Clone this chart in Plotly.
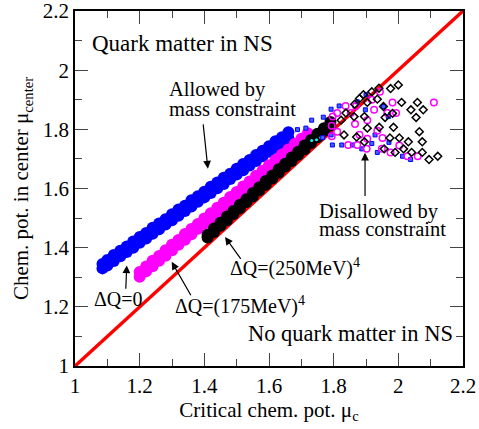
import plotly.graph_objects as go

# diagonal mu_center = mu_c
diag_x = [1.0, 2.2]
diag_y = [1.0, 2.2]

# dense bands (allowed by mass constraint)
blue_x = [1.085, 1.10, 1.12, 1.14, 1.16, 1.18, 1.20, 1.22, 1.24, 1.26, 1.28, 1.30, 1.32, 1.34, 1.36,
          1.38, 1.40, 1.42, 1.44, 1.46, 1.48, 1.50, 1.52, 1.54, 1.56, 1.58, 1.60, 1.62, 1.64, 1.66]
blue_hi = [1.345, 1.358, 1.375, 1.390, 1.404, 1.421, 1.436, 1.450, 1.467, 1.482, 1.496, 1.513, 1.529, 1.542, 1.560,
           1.574, 1.589, 1.606, 1.620, 1.636, 1.650, 1.667, 1.683, 1.696, 1.713, 1.728, 1.743, 1.760, 1.773, 1.790]
blue_lo = [1.330, 1.340, 1.355, 1.371, 1.385, 1.400, 1.417, 1.431, 1.447, 1.462, 1.478, 1.493, 1.508, 1.524, 1.539,
           1.555, 1.570, 1.585, 1.601, 1.615, 1.632, 1.647, 1.662, 1.678, 1.693, 1.709, 1.724, 1.738, 1.755, 1.770]

mag_x = [1.20, 1.22, 1.24, 1.26, 1.28, 1.30, 1.32, 1.34, 1.36, 1.38, 1.40, 1.42, 1.44, 1.46,
         1.48, 1.50, 1.52, 1.54, 1.56, 1.58, 1.60, 1.62, 1.64, 1.66, 1.68, 1.70, 1.72]
mag_hi = [1.318, 1.336, 1.356, 1.372, 1.391, 1.410, 1.426, 1.446, 1.463, 1.480, 1.499, 1.516, 1.535, 1.552,
          1.571, 1.588, 1.607, 1.624, 1.643, 1.660, 1.679, 1.696, 1.715, 1.732, 1.751, 1.768, 1.787]
mag_lo = [1.302, 1.320, 1.337, 1.356, 1.373, 1.391, 1.410, 1.427, 1.445, 1.464, 1.481, 1.500, 1.517, 1.536,
          1.553, 1.572, 1.589, 1.608, 1.625, 1.644, 1.661, 1.680, 1.697, 1.716, 1.733, 1.752, 1.769]

blk_x = [1.41, 1.43, 1.45, 1.47, 1.49, 1.51, 1.53, 1.55, 1.57, 1.59,
         1.61, 1.63, 1.65, 1.67, 1.69, 1.71, 1.73, 1.75, 1.77, 1.79]
blk_hi = [1.444, 1.465, 1.484, 1.505, 1.524, 1.545, 1.564, 1.585, 1.604, 1.625,
          1.644, 1.665, 1.684, 1.705, 1.724, 1.745, 1.764, 1.785, 1.804, 1.825]
blk_lo = [1.434, 1.453, 1.474, 1.493, 1.514, 1.533, 1.554, 1.573, 1.594, 1.613,
          1.634, 1.653, 1.674, 1.693, 1.714, 1.733, 1.754, 1.773, 1.794, 1.813]

# scattered points (disallowed by mass constraint)
sq_x = [1.918, 1.935, 1.971, 2.013, 2.038, 1.954, 1.969, 1.928, 1.792, 1.817, 1.732, 1.768, 1.714, 1.688,
        1.792, 1.796, 1.825, 1.858, 1.900, 1.898, 1.873, 1.887, 1.766]
sq_y = [1.752, 1.722, 1.756, 1.709, 1.698, 1.877, 1.843, 1.781, 1.868, 1.879, 1.831, 1.841, 1.804, 1.799,
        1.781, 1.747, 1.747, 1.747, 1.917, 1.866, 1.893, 1.734, 1.772]

circ_x = [1.943, 1.918, 1.982, 2.110, 1.925, 1.966, 1.993, 1.935, 1.951, 2.003, 1.949, 1.976, 2.028, 2.060,
          1.837, 1.869, 1.811, 1.853, 1.866, 1.811, 1.794, 1.845, 1.873, 1.904, 1.902, 1.797, 1.904, 1.880, 1.794]
circ_y = [1.927, 1.900, 1.891, 1.891, 1.866, 1.855, 1.855, 1.795, 1.771, 1.745, 1.734, 1.722, 1.709, 1.709,
          1.879, 1.879, 1.855, 1.855, 1.818, 1.792, 1.777, 1.747, 1.747, 1.768, 1.734, 1.843, 1.831, 1.782, 1.812]

dia_x = [2.000, 1.976, 1.918, 1.935, 2.010, 2.059, 1.954, 2.039, 2.077, 1.982, 1.959, 2.055, 1.941, 1.985,
         2.065, 1.974, 2.003, 2.031, 2.074, 1.956, 1.990, 2.016, 2.041, 2.074, 2.095, 2.122,
         1.880, 1.838, 1.863, 1.895, 1.823, 1.904, 1.832, 1.871, 1.895, 1.892, 1.940, 1.904, 1.865]
dia_y = [1.950, 1.938, 1.927, 1.902, 1.891, 1.891, 1.877, 1.866, 1.866, 1.854, 1.840, 1.840, 1.807, 1.807,
         1.792, 1.771, 1.771, 1.758, 1.758, 1.734, 1.722, 1.734, 1.722, 1.722, 1.698, 1.709,
         1.904, 1.855, 1.843, 1.843, 1.831, 1.804, 1.781, 1.774, 1.758, 1.917, 1.939, 1.891, 1.885]

cyan_x = [1.732, 1.747, 1.760]
cyan_y = [1.762, 1.765, 1.772]

FONT = "Liberation Serif"

fig = go.Figure()
fig.add_scatter(x=diag_x, y=diag_y, mode="lines", line=dict(color="#ff0000", width=3.5))

for xs, ys, col in [(blue_x, blue_hi, "#0000ff"), (blue_x, blue_lo, "#0000ff"),
                    (mag_x, mag_hi, "#ff00ff"), (mag_x, mag_lo, "#ff00ff"),
                    (blk_x, blk_hi, "#000000"), (blk_x, blk_lo, "#000000")]:
    fig.add_scatter(x=xs, y=ys, mode="markers", marker=dict(color=col, size=12, line=dict(width=0)))

fig.add_scatter(x=cyan_x, y=cyan_y, mode="markers", marker=dict(color="#00ffff", size=3))
fig.add_scatter(x=sq_x, y=sq_y, mode="markers",
                marker=dict(symbol="square", color="#4060ff", size=4, line=dict(color="#0000ff", width=1)))
fig.add_scatter(x=circ_x, y=circ_y, mode="markers",
                marker=dict(symbol="circle-open", color="#ff00ff", size=6.5, line=dict(width=1.5)))
fig.add_scatter(x=dia_x, y=dia_y, mode="markers",
                marker=dict(symbol="diamond-open", color="#000000", size=6, line=dict(width=1.5)))

texts = [
    (1.046, 2.089, "Quark matter in NS", 23, "left"),
    (2.175, 1.111, "No quark matter in NS", 22.5, "right"),
    (1.285, 1.934, "Allowed by", 20.5, "left"),
    (1.285, 1.870, "mass constraint", 20.5, "left"),
    (1.749, 1.522, "Disallowed by", 20.5, "left"),
    (1.749, 1.462, "mass constraint", 20.5, "left"),
    (1.052, 1.226, "ΔQ=0", 20, "left"),
    (1.303, 1.205, "ΔQ=(175MeV)<sup>4</sup>", 20, "left"),
    (1.473, 1.334, "ΔQ=(250MeV)<sup>4</sup>", 20, "left"),
]
for x, y, t, s, al in texts:
    fig.add_annotation(x=x, y=y, text=t, showarrow=False, xanchor=al, align="left",
                       font=dict(family=FONT, size=s, color="black"))

arrows = [
    (1.396, 1.822, 1.411, 1.667),
    (1.897, 1.570, 1.897, 1.721),
    (1.157, 1.256, 1.160, 1.340),
    (1.361, 1.234, 1.299, 1.352),
    (1.516, 1.357, 1.464, 1.436),
]
for x0, y0, x1, y1 in arrows:
    fig.add_annotation(x=x1, y=y1, ax=x0, ay=y0, axref="x", ayref="y", text="",
                       showarrow=True, arrowhead=2, arrowsize=1.3, arrowwidth=1.2, arrowcolor="black")

axis = dict(range=[1, 2.2], dtick=0.2, tick0=1, ticks="inside", ticklen=13, tickwidth=1.3,
            minor=dict(dtick=0.1, ticks="inside", ticklen=7, tickwidth=1.3),
            showline=True, linewidth=1.5, linecolor="black", mirror="allticks", automargin=False,
            ticklabeloverflow="allow",
            showgrid=False, zeroline=False, tickfont=dict(family=FONT, size=21, color="black"))

fig.update_layout(
    width=479, height=429, showlegend=False,
    margin=dict(l=75, r=16, t=11, b=63),
    paper_bgcolor="white", plot_bgcolor="white",
    xaxis=dict(axis, title=dict(text="Critical chem. pot. μ<sub>c</sub>", standoff=4,
                                font=dict(family=FONT, size=21, color="black"))),
    yaxis=dict(axis, title=dict(text="Chem. pot. in center μ<sub>center</sub>", standoff=8,
                                font=dict(family=FONT, size=21, color="black"))),
)

# drop the default page margin so the figure fills the window
fig.write_html("out.html", config={"displayModeBar": False},
               post_script="document.body.style.margin='0';")
